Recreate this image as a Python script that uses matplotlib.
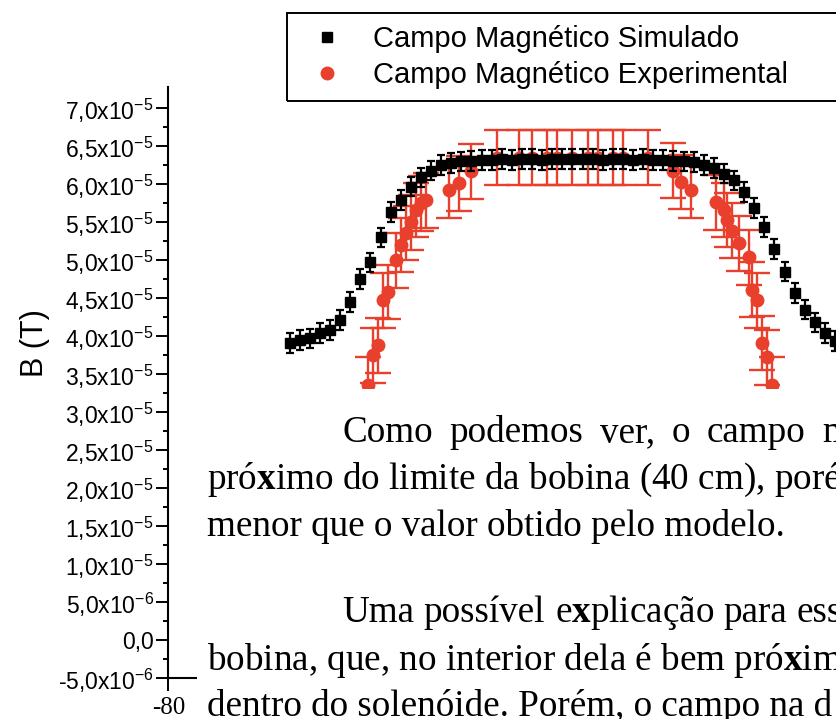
import matplotlib
matplotlib.use('Agg')
import matplotlib.pyplot as plt
from matplotlib.patches import Rectangle
from matplotlib.lines import Line2D

plt.rcParams['font.family'] = ['Liberation Sans', 'DejaVu Sans']
plt.rcParams['mathtext.fontset'] = 'custom'
plt.rcParams['mathtext.rm'] = 'Liberation Sans'
plt.rcParams['mathtext.it'] = 'Liberation Sans:italic'
plt.rcParams['mathtext.bf'] = 'Liberation Serif:bold'
plt.rcParams['mathtext.default'] = 'regular'

# ---------------- data (B in units of 1e-5 T, position in cm) ----------------
sim_x = [-56, -54, -52, -50, -48, -46, -44, -42, -40, -38, -36, -34, -32, -30,
         -28, -26, -24, -22, -20, -18, -16, -14, -12, -10, -8, -6, -4, -2, 0,
         2, 4, 6, 8, 10, 12, 14, 16, 18, 20, 22, 24, 26, 28, 30, 32, 34, 36,
         38, 40, 42, 44, 46, 48, 50, 52, 54, 56]
sim_b = [3.91, 3.95, 3.97, 4.04, 4.08, 4.21, 4.45, 4.75, 4.97, 5.30, 5.63,
         5.79, 5.97, 6.09, 6.18, 6.25, 6.28, 6.30, 6.31, 6.32, 6.32, 6.33,
         6.32, 6.33, 6.33, 6.32, 6.33, 6.33, 6.33, 6.33, 6.33, 6.32, 6.33,
         6.33, 6.32, 6.33, 6.32, 6.32, 6.31, 6.30, 6.29, 6.25, 6.21, 6.14,
         6.05, 5.90, 5.69, 5.44, 5.15, 4.85, 4.57, 4.35, 4.18, 4.04, 3.94,
         3.88, 3.84]
sim_err = 0.13

exp_x = [-40.5, -39.5, -38.5, -37.5, -36.5, -35, -34, -33, -32, -31, -30, -29,
         -24.5, -22.5, -20, -15, -10.5, -8, -5, -3, 0, 3, 5, 8, 10, 15, 20,
         21.5, 23.5, 28.5, 30, 30.5, 31.5, 33, 35, 35.5, 36.5, 37.5, 38.5, 39.5]
exp_b = [3.36, 3.75, 3.88, 4.47, 4.58, 5.00, 5.20, 5.36, 5.50, 5.66, 5.75,
         5.79, 5.92, 6.01, 6.17, 6.35, 6.35, 6.35, 6.35, 6.35, 6.35, 6.35,
         6.35, 6.35, 6.35, 6.35, 6.18, 6.03, 5.92, 5.76, 5.66, 5.53, 5.39,
         5.22, 5.04, 4.61, 4.47, 3.91, 3.72, 3.36]
exp_err = 0.36

y_ticks = [-0.5, 0.0, 0.5, 1.0, 1.5, 2.0, 2.5, 3.0, 3.5, 4.0, 4.5, 5.0, 5.5,
           6.0, 6.5, 7.0]
y_tick_labels = ['-5,0x10$^{-6}$', '0,0', '5,0x10$^{-6}$', '1,0x10$^{-5}$',
                 '1,5x10$^{-5}$', '2,0x10$^{-5}$', '2,5x10$^{-5}$',
                 '3,0x10$^{-5}$', '3,5x10$^{-5}$', '4,0x10$^{-5}$',
                 '4,5x10$^{-5}$', '5,0x10$^{-5}$', '5,5x10$^{-5}$',
                 '6,0x10$^{-5}$', '6,5x10$^{-5}$', '7,0x10$^{-5}$']
x_ticks = [-80, -60, -40, -20, 0, 20, 40, 60, 80]
x_tick_labels = ['-80', '', '', '', '', '', '', '', '']  # others hidden by the text box

legend_labels = ['Campo Magnético Simulado', 'Campo Magnético Experimental']

text_lines_justified = [
    (['Como', 'podemos', 'ver,', 'o', 'campo', 'm'], 442),
    (['Uma', 'possível', r'e$\mathbf{x}$plicação', 'para', 'ess'], 622),
]
text_lines_plain = [
    (r'pró$\mathbf{x}$imo do limite da bobina (40 cm), porém', 489),
    ('menor que o valor obtido pelo modelo.', 536),
    (r'bobina, que, no interior dela é bem pró$\mathbf{x}$imo', 670),
    ('dentro do solenóide. Porém, o campo na d', 716),
]

RED = '#e8402c'
W, H = 837, 719

fig = plt.figure(figsize=(W / 100, H / 100), dpi=100)
# axes: x=-80 at px 168.5, 5.05 px/cm ; y from -0.5 (px 678) to 7.28 (px 87)
ax = fig.add_axes([168.5 / W, (H - 678) / H, 808 / W, 591 / H])
scale = 1e-5

ax.errorbar(exp_x, [v * scale for v in exp_b], yerr=exp_err * scale,
            fmt='o', color=RED, ms=9, capsize=9.5, elinewidth=1.7,
            capthick=1.7, zorder=2)
ax.errorbar(sim_x, [v * scale for v in sim_b], yerr=sim_err * scale,
            fmt='s', color='k', ms=7.5, capsize=2.6, elinewidth=1.6,
            capthick=1.6, zorder=3)

ax.set_xlim(-80, 80)
ax.set_ylim(-0.5 * scale, 7.28 * scale)
ax.set_yticks([t * scale for t in y_ticks])
ax.set_yticklabels(y_tick_labels)
ax.set_yticks([(t + 0.25) * scale for t in y_ticks[:-1]], minor=True)
ax.set_xticks(x_ticks)
ax.set_xticklabels(x_tick_labels)
for lbl in ax.get_xticklabels():
    lbl.set_fontfamily('Liberation Serif')
    lbl.set_fontsize(18)
ax.tick_params(axis='y', which='major', direction='out', length=9, width=1.4,
               labelsize=16.5, pad=1.5)
ax.tick_params(axis='y', which='minor', direction='out', length=3.8, width=1.4)
ax.tick_params(axis='x', which='major', direction='out', length=9, width=1.4,
               pad=5)
for s in ['top', 'right']:
    ax.spines[s].set_visible(False)
for s in ['left', 'bottom']:
    ax.spines[s].set_linewidth(1.5)

ax.set_ylabel('B (T)', fontsize=22, va='center')
ax.yaxis.set_label_coords((35 - 168.5) / 808, (678 - 343) / 591)

# legend
handles = [Line2D([], [], marker='s', ls='none', color='k', ms=7),
           Line2D([], [], marker='o', ls='none', color=RED, ms=9)]
fig.legend(handles, legend_labels, loc='upper left',
           bbox_to_anchor=(312 / W, 1 - 25 / H), frameon=False, fontsize=21,
           handlelength=1.0, handletextpad=1.1, labelspacing=0.28,
           borderpad=0, borderaxespad=0)
fig.add_artist(Rectangle((287 / W, 1 - 101 / H), (860 - 287) / W, 88 / H,
                         transform=fig.transFigure, fill=False, ec='k',
                         lw=1.4, zorder=4))

# overlaid document text box
fig.add_artist(Rectangle((197 / W, 0), 1.0, (H - 389) / H,
                         transform=fig.transFigure, fc='white', ec='none',
                         zorder=10))
tfont = dict(family='Liberation Serif', fontsize=26.7, color='#000000',
             zorder=11, va='baseline', ha='left')
for line, yb in text_lines_plain:
    fig.text(207 / W, 1 - yb / H, line, **tfont)

renderer = fig.canvas.get_renderer()
starts = {0: (342, 822), 1: (342, 797)}
for i, (words, yb) in enumerate(text_lines_justified):
    objs = [fig.text(0, 1 - yb / H, w, **tfont) for w in words]
    widths = [o.get_window_extent(renderer).width for o in objs]
    x0, xlast = starts[i]
    gap = (xlast - x0 - sum(widths[:-1])) / (len(words) - 1)
    x = x0
    for o, wd in zip(objs, widths):
        o.set_x(x / W)
        x += wd + gap

fig.savefig('out.png', dpi=100)
